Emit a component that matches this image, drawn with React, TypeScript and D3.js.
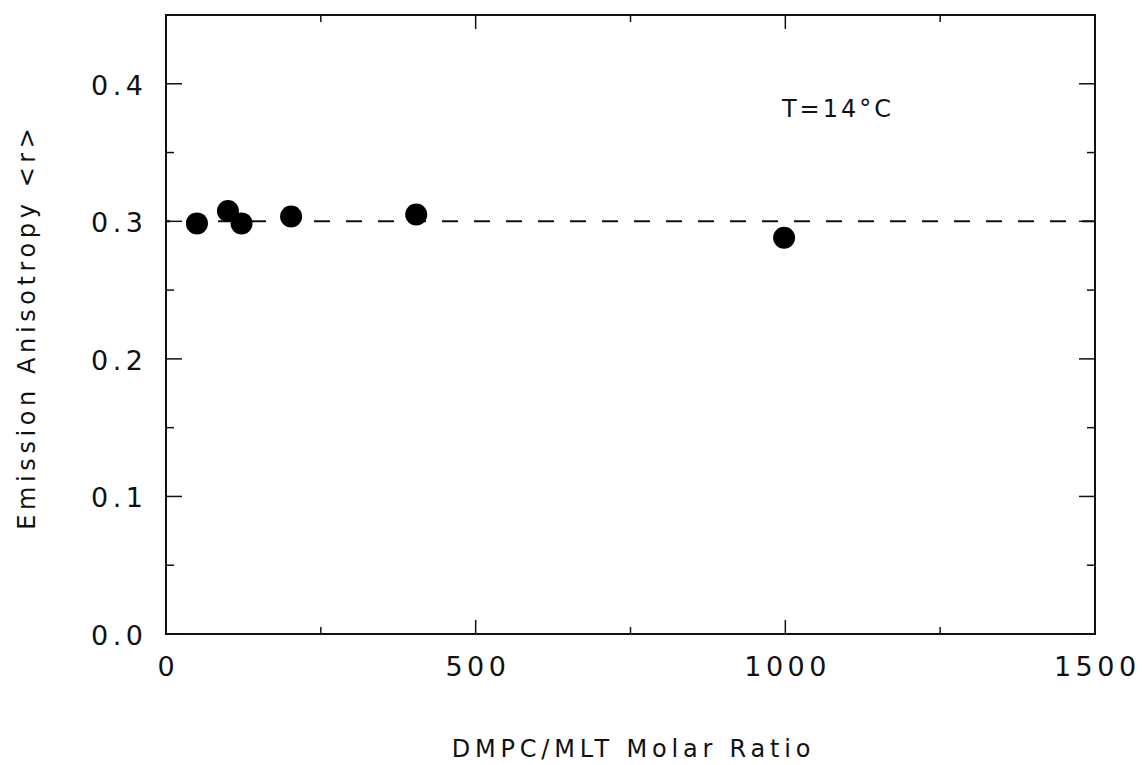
import React from "react";
import * as d3 from "d3";

const ratios = [50, 100, 122, 202, 404, 998];
const anisotropy = [0.2985, 0.3075, 0.2985, 0.3035, 0.305, 0.288];
const fitValue = 0.3;
const xMajorTicks = [0, 500, 1000, 1500];
const xMinorTicks = [250, 750, 1250];
const yMajorTicks = [0, 0.1, 0.2, 0.3, 0.4];
const yMinorTicks = [0.05, 0.15, 0.25, 0.35];

const W = 1142, H = 765;
const L = 166, R = 1095, T = 15, B = 634;

export default function App() {
  const x = d3.scaleLinear().domain([0, 1500]).range([L, R]);
  const y = d3.scaleLinear().domain([0, 0.45]).range([B, T]);
  const font = "'DejaVu Sans', sans-serif";
  const stroke = "#111";
  const tickLS = 4.5;
  const labLS = 4.8;
  return (
    <svg width={W} height={H} style={{ position: "absolute", left: 0, top: 0, background: "#fff" }}>
      <rect x={L} y={T} width={R - L} height={B - T} fill="none" stroke={stroke} strokeWidth={2} />
      {xMajorTicks.map((t) => (
        <g key={"xm" + t}>
          <line x1={x(t)} x2={x(t)} y1={B} y2={B - 14} stroke={stroke} strokeWidth={1.5} />
          <line x1={x(t)} x2={x(t)} y1={T} y2={T + 14} stroke={stroke} strokeWidth={1.5} />
          <text x={x(t) + tickLS / 2} y={676} textAnchor="middle" fontFamily={font} fontSize={27} letterSpacing={tickLS} fill={stroke}>
            {d3.format("d")(t)}
          </text>
        </g>
      ))}
      {xMinorTicks.map((t) => (
        <g key={"xn" + t}>
          <line x1={x(t)} x2={x(t)} y1={B} y2={B - 7} stroke={stroke} strokeWidth={1.5} />
          <line x1={x(t)} x2={x(t)} y1={T} y2={T + 7} stroke={stroke} strokeWidth={1.5} />
        </g>
      ))}
      {yMajorTicks.map((t) => (
        <g key={"ym" + t}>
          <line x1={L} x2={L + 16} y1={y(t)} y2={y(t)} stroke={stroke} strokeWidth={1.5} />
          <line x1={R} x2={R - 16} y1={y(t)} y2={y(t)} stroke={stroke} strokeWidth={1.5} />
          <text x={143 + tickLS} y={y(t) + 11} textAnchor="end" fontFamily={font} fontSize={27} letterSpacing={tickLS} fill={stroke}>
            {d3.format(".1f")(t)}
          </text>
        </g>
      ))}
      {yMinorTicks.map((t) => (
        <g key={"yn" + t}>
          <line x1={L} x2={L + 8} y1={y(t)} y2={y(t)} stroke={stroke} strokeWidth={1.5} />
          <line x1={R} x2={R - 8} y1={y(t)} y2={y(t)} stroke={stroke} strokeWidth={1.5} />
        </g>
      ))}
      <line x1={L} x2={R} y1={y(fitValue)} y2={y(fitValue)} stroke={stroke} strokeWidth={2} strokeDasharray="16 16" strokeDashoffset={-20} />
      {ratios.map((r, i) => (
        <circle key={i} cx={x(r)} cy={y(anisotropy[i])} r={11} fill="#000" />
      ))}
      <text x={891 + 3} y={117} textAnchor="end" fontFamily={font} fontSize={24} letterSpacing={3} fill={stroke}>T=14°C</text>
      <text x={631 + labLS / 2} y={757} textAnchor="middle" fontFamily={font} fontSize={24} letterSpacing={labLS} fill={stroke}>
        DMPC/MLT Molar Ratio
      </text>
      <text transform={`translate(35, 329) rotate(-90)`} dx={labLS / 2} textAnchor="middle" fontFamily={font} fontSize={24} letterSpacing={4.6} fill={stroke}>
        Emission Anisotropy &lt;r&gt;
      </text>
    </svg>
  );
}
